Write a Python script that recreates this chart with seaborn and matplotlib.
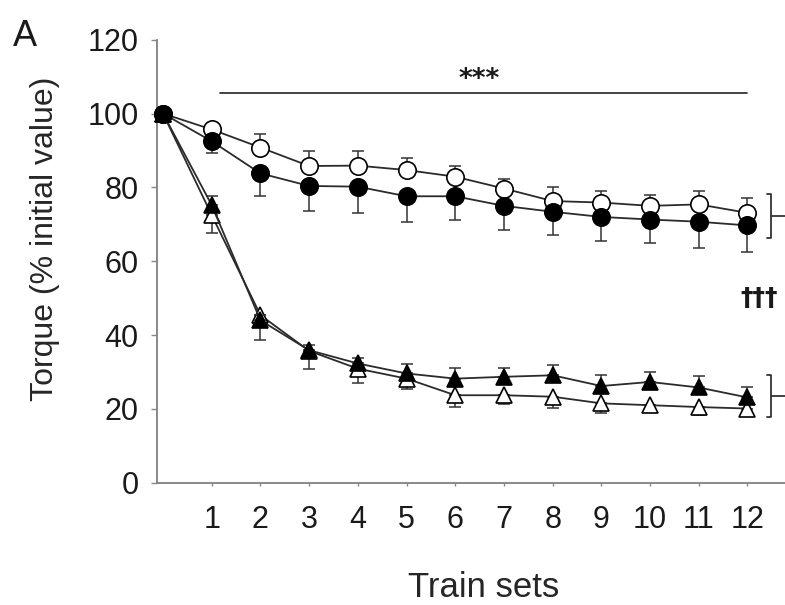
import numpy as np
import pandas as pd
import matplotlib
matplotlib.use('Agg')
import matplotlib.pyplot as plt
import seaborn as sns

# ---- data ----
train_sets = list(range(0, 13))
tick_labels = [str(i) for i in range(1, 13)]

open_circle = [100, 95.7, 90.8, 85.8, 85.9, 84.7, 82.9, 79.7, 76.3, 75.9, 75.0, 75.4, 73.1]
open_circle_se = [0, 1.5, 3.6, 4.0, 3.9, 3.2, 2.9, 2.5, 3.9, 3.2, 2.9, 3.7, 4.1]      # upper bars

filled_circle = [100, 92.5, 83.8, 80.4, 80.2, 77.6, 77.6, 75.0, 73.4, 72.0, 71.3, 70.7, 69.7]
filled_circle_se = [0, 3.3, 6.2, 6.8, 7.1, 7.0, 6.5, 6.6, 6.3, 6.6, 6.3, 7.2, 7.1]    # lower bars

filled_tri = [100, 75.2, 44.0, 35.9, 32.3, 29.6, 28.2, 28.7, 29.1, 26.2, 27.3, 25.8, 23.1]
filled_tri_se = [0, 2.4, 1.5, 1.5, 1.5, 2.5, 3.0, 2.5, 2.7, 3.1, 2.6, 3.1, 2.7]        # upper bars

open_tri = [100, 72.5, 45.4, 35.7, 30.9, 28.2, 23.7, 23.7, 23.3, 21.5, 21.0, 20.5, 20.1]
open_tri_se = [0, 4.8, 6.8, 4.8, 4.0, 2.9, 3.3, 2.4, 3.0, 2.7, 1.4, 2.2, 2.1]          # lower bars

# annotation positions (data units)
sig_line = [1.17, 12.0, 105.6]
upper_bracket = [12.48, 66.2, 78.2]
lower_bracket = [12.48, 17.7, 29.1]

df = pd.DataFrame({
    'set': train_sets * 4,
    'torque': open_circle + open_tri + filled_circle + filled_tri,
    'group': ['oc'] * 13 + ['ot'] * 13 + ['fc'] * 13 + ['ft'] * 13,
})

sns.set_style('ticks')
plt.rcParams['font.family'] = ['Liberation Sans', 'DejaVu Sans']
plt.rcParams['text.color'] = '#1a1a1a'

fig = plt.figure(figsize=(7.85, 6.05), dpi=100)
ax = fig.add_axes([0.1996, 0.2021, 0.8004, 0.7322])

line_col = '#2b2b2b'
styles = {
    'oc': dict(marker='o', mfc='white', ms=12.5, z=3, err=(None, open_circle_se)),
    'ot': dict(marker='^', mfc='white', ms=12, z=3, err=(open_tri_se, None)),
    'fc': dict(marker='o', mfc='black', ms=12.5, z=4, err=(filled_circle_se, None)),
    'ft': dict(marker='^', mfc='black', ms=12, z=4, err=(None, filled_tri_se)),
}

for g, st in styles.items():
    sub = df[df['group'] == g]
    lo, up = st['err']
    lo = np.zeros(13) if lo is None else np.array(lo)
    up = np.zeros(13) if up is None else np.array(up)
    ax.errorbar(sub['set'], sub['torque'], yerr=[lo, up], fmt='none',
                ecolor='#333333', elinewidth=1.1, capsize=4, capthick=1.1,
                zorder=st['z'] - 1)
    sns.lineplot(data=sub, x='set', y='torque', ax=ax, color=line_col,
                 linewidth=1.3, marker=st['marker'], markersize=st['ms'],
                 markerfacecolor=st['mfc'], markeredgecolor='black',
                 markeredgewidth=1.2, zorder=st['z'], clip_on=False,
                 legend=False)

# significance line and stars
ax.plot([sig_line[0], sig_line[1]], [sig_line[2], sig_line[2]],
        color='#222222', lw=1.2, clip_on=False)
ax.text((sig_line[0] + sig_line[1]) / 2 - 0.1, 109.0, '***', ha='center',
        va='center', fontsize=19, fontweight='bold', family=['DejaVu Sans'])

# brackets on the right
for bx, b0, b1 in [upper_bracket, lower_bracket]:
    ax.plot([bx - 0.08, bx, bx, bx - 0.08], [b1, b1, b0, b0],
            color='#333333', lw=1.3, clip_on=False)
    mid = (b0 + b1) / 2
    ax.plot([bx, 12.9], [mid, mid], color='#333333', lw=1.3, clip_on=False)

ax.text(11.85, 50.0, '\u2020\u2020\u2020', ha='left', va='center',
        fontsize=18, fontweight='bold', family=['DejaVu Sans'], clip_on=False)

ax.set_xlim(-0.13, 12.77)
ax.set_ylim(0, 120)
ax.set_xticks(range(1, 13))
ax.set_xticklabels(tick_labels)
ax.set_yticks(range(0, 121, 20))

ax.tick_params(axis='y', labelsize=22, length=4, width=1, color='#888888',
               pad=9, labelcolor='#1a1a1a')
ax.tick_params(axis='x', labelsize=22, length=2, width=1, color='#888888',
               pad=14, labelcolor='#1a1a1a')

sns.despine(ax=ax)
for s in ['left', 'bottom']:
    ax.spines[s].set_color('#808080')
    ax.spines[s].set_linewidth(1.3)

ax.set_xlabel('Train sets', fontsize=25)
ax.set_ylabel('Torque (% initial value)', fontsize=23)
ax.xaxis.set_label_coords(0.521, -0.20)
ax.yaxis.set_label_coords(-0.154, 0.55)

fig.text(0.0166, 1 - 46 / 605, 'A', fontsize=26, va='baseline', ha='left')

fig.savefig('out.png', dpi=100)
